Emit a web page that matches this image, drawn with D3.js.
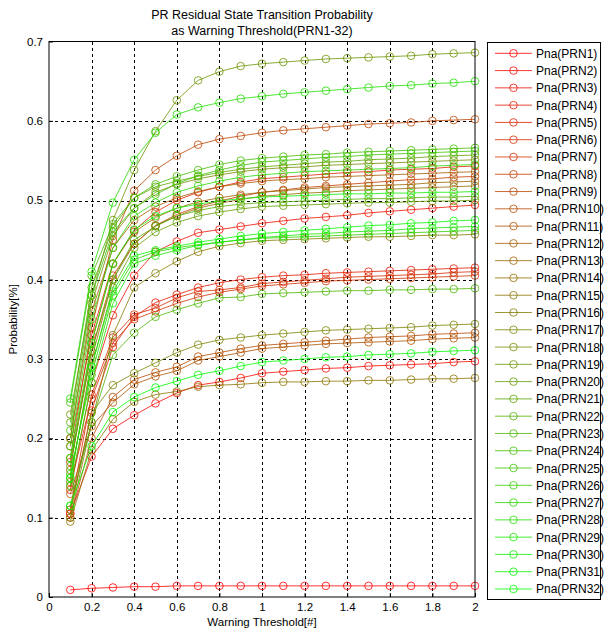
<!DOCTYPE html>
<html>
<head>
<meta charset="utf-8">
<script src="https://cdn.jsdelivr.net/npm/d3@7"></script>
<style>
  body { margin: 0; background: #fff; }
  text { font-family: "Liberation Sans", Arial, sans-serif; fill: #000; }
  .tick line { stroke: #000; }
  .grid line { stroke: #000; stroke-dasharray: 3,3; shape-rendering: crispEdges; }
</style>
</head>
<body>
<div id="chart"></div>
<script>
// x values (warning threshold)
var thresholds = [0.1,0.2,0.3,0.4,0.5,0.6,0.7,0.8,0.9,1.0,1.1,1.2,1.3,1.4,1.5,1.6,1.7,1.8,1.9,2.0];
var xTicks = [0,0.2,0.4,0.6,0.8,1,1.2,1.4,1.6,1.8,2];
var yTicks = [0,0.1,0.2,0.3,0.4,0.5,0.6,0.7];

// probability per PRN
var pnaPRN1  = [0.009,0.011,0.012,0.013,0.013,0.014,0.014,0.014,0.014,0.014,0.014,0.014,0.014,0.014,0.014,0.014,0.014,0.014,0.014,0.014];
var pnaPRN2  = [0.105,0.177,0.212,0.229,0.244,0.257,0.267,0.271,0.276,0.282,0.284,0.286,0.288,0.289,0.291,0.292,0.293,0.294,0.296,0.297];
var pnaPRN3  = [0.135,0.270,0.355,0.405,0.435,0.448,0.459,0.463,0.467,0.471,0.474,0.477,0.479,0.481,0.484,0.486,0.488,0.490,0.492,0.494];
var pnaPRN4  = [0.105,0.235,0.315,0.353,0.371,0.381,0.390,0.396,0.400,0.403,0.405,0.406,0.408,0.409,0.410,0.411,0.412,0.413,0.414,0.415];
var pnaPRN5  = [0.190,0.330,0.420,0.462,0.485,0.500,0.510,0.517,0.523,0.527,0.529,0.531,0.533,0.535,0.536,0.538,0.539,0.540,0.542,0.543];
var pnaPRN6  = [0.110,0.255,0.327,0.356,0.364,0.377,0.385,0.387,0.390,0.395,0.397,0.399,0.401,0.403,0.404,0.405,0.406,0.407,0.409,0.410];
var pnaPRN7  = [0.140,0.250,0.320,0.350,0.360,0.370,0.378,0.384,0.388,0.392,0.394,0.396,0.398,0.399,0.400,0.401,0.402,0.403,0.404,0.405];
var pnaPRN8  = [0.170,0.310,0.405,0.445,0.468,0.482,0.492,0.499,0.505,0.510,0.513,0.516,0.518,0.520,0.522,0.524,0.526,0.527,0.529,0.530];
var pnaPRN9  = [0.175,0.340,0.450,0.512,0.538,0.556,0.570,0.577,0.581,0.585,0.588,0.590,0.592,0.594,0.596,0.597,0.598,0.600,0.601,0.602];
var pnaPRN10 = [0.100,0.200,0.252,0.274,0.283,0.290,0.303,0.308,0.313,0.317,0.319,0.321,0.323,0.325,0.327,0.328,0.329,0.331,0.332,0.333];
var pnaPRN11 = [0.130,0.215,0.245,0.268,0.278,0.285,0.298,0.303,0.308,0.313,0.315,0.317,0.319,0.320,0.321,0.322,0.323,0.325,0.326,0.327];
var pnaPRN12 = [0.200,0.360,0.440,0.475,0.492,0.503,0.511,0.517,0.521,0.524,0.526,0.527,0.529,0.530,0.531,0.532,0.533,0.534,0.535,0.536];
var pnaPRN13 = [0.160,0.320,0.420,0.460,0.478,0.490,0.498,0.503,0.507,0.510,0.512,0.514,0.516,0.517,0.518,0.519,0.520,0.522,0.523,0.524];
var pnaPRN14 = [0.145,0.300,0.400,0.445,0.468,0.480,0.490,0.496,0.501,0.505,0.507,0.509,0.510,0.512,0.513,0.514,0.515,0.516,0.517,0.518];
var pnaPRN15 = [0.095,0.185,0.224,0.246,0.255,0.259,0.265,0.267,0.268,0.270,0.271,0.271,0.272,0.272,0.273,0.273,0.274,0.275,0.275,0.276];
var pnaPRN16 = [0.100,0.220,0.330,0.390,0.408,0.423,0.435,0.442,0.446,0.449,0.450,0.451,0.452,0.453,0.454,0.454,0.455,0.456,0.456,0.457];
var pnaPRN17 = [0.110,0.232,0.267,0.282,0.295,0.308,0.318,0.324,0.327,0.330,0.332,0.334,0.336,0.337,0.338,0.339,0.340,0.342,0.343,0.344];
var pnaPRN18 = [0.200,0.370,0.455,0.490,0.510,0.520,0.527,0.532,0.536,0.539,0.541,0.542,0.544,0.545,0.546,0.547,0.548,0.549,0.550,0.551];
var pnaPRN19 = [0.230,0.380,0.475,0.538,0.587,0.626,0.651,0.662,0.669,0.672,0.674,0.676,0.678,0.679,0.680,0.681,0.682,0.684,0.685,0.686];
var pnaPRN20 = [0.150,0.290,0.390,0.440,0.460,0.472,0.480,0.485,0.489,0.492,0.493,0.494,0.495,0.496,0.497,0.497,0.498,0.499,0.499,0.500];
var pnaPRN21 = [0.220,0.390,0.465,0.503,0.517,0.524,0.530,0.535,0.539,0.542,0.544,0.546,0.548,0.549,0.551,0.552,0.553,0.555,0.556,0.557];
var pnaPRN22 = [0.165,0.310,0.400,0.450,0.467,0.480,0.487,0.492,0.495,0.497,0.498,0.499,0.500,0.501,0.502,0.502,0.503,0.504,0.504,0.505];
var pnaPRN23 = [0.115,0.220,0.305,0.333,0.353,0.362,0.370,0.377,0.378,0.382,0.383,0.384,0.385,0.386,0.386,0.387,0.387,0.388,0.388,0.389];
var pnaPRN24 = [0.245,0.405,0.470,0.503,0.520,0.530,0.538,0.545,0.550,0.553,0.555,0.557,0.558,0.560,0.561,0.562,0.563,0.564,0.565,0.566];
var pnaPRN25 = [0.210,0.380,0.460,0.490,0.507,0.521,0.531,0.538,0.544,0.548,0.550,0.552,0.554,0.555,0.557,0.558,0.559,0.560,0.561,0.562];
var pnaPRN26 = [0.155,0.280,0.380,0.425,0.435,0.440,0.444,0.447,0.450,0.452,0.453,0.454,0.455,0.456,0.457,0.458,0.459,0.460,0.461,0.462];
var pnaPRN27 = [0.190,0.350,0.440,0.480,0.497,0.510,0.518,0.524,0.529,0.532,0.534,0.536,0.537,0.538,0.539,0.540,0.541,0.543,0.544,0.545];
var pnaPRN28 = [0.250,0.410,0.497,0.551,0.585,0.608,0.617,0.623,0.628,0.631,0.634,0.636,0.638,0.640,0.642,0.644,0.645,0.647,0.648,0.650];
var pnaPRN29 = [0.140,0.270,0.370,0.420,0.430,0.437,0.443,0.447,0.450,0.453,0.455,0.457,0.458,0.460,0.461,0.462,0.464,0.465,0.466,0.467];
var pnaPRN30 = [0.175,0.320,0.420,0.463,0.480,0.490,0.495,0.499,0.502,0.504,0.505,0.506,0.507,0.508,0.508,0.509,0.509,0.510,0.510,0.511];
var pnaPRN31 = [0.150,0.290,0.385,0.430,0.437,0.442,0.447,0.451,0.455,0.458,0.460,0.462,0.464,0.466,0.468,0.469,0.471,0.472,0.474,0.475];
var pnaPRN32 = [0.115,0.190,0.233,0.252,0.264,0.272,0.280,0.285,0.291,0.296,0.298,0.300,0.302,0.303,0.305,0.306,0.307,0.309,0.310,0.311];

var seriesValues = [pnaPRN1,pnaPRN2,pnaPRN3,pnaPRN4,pnaPRN5,pnaPRN6,pnaPRN7,pnaPRN8,
  pnaPRN9,pnaPRN10,pnaPRN11,pnaPRN12,pnaPRN13,pnaPRN14,pnaPRN15,pnaPRN16,
  pnaPRN17,pnaPRN18,pnaPRN19,pnaPRN20,pnaPRN21,pnaPRN22,pnaPRN23,pnaPRN24,
  pnaPRN25,pnaPRN26,pnaPRN27,pnaPRN28,pnaPRN29,pnaPRN30,pnaPRN31,pnaPRN32];
var seriesNames = seriesValues.map((d, i) => "Pna(PRN" + (i + 1) + ")");

var svgWidth = 606;
var svgHeight = 630;

// plot box
var margin = { top: 41.5, left: 49 };
var width = 426;
var height = 555.5;

var svg = d3.select("#chart")
  .append("svg")
  .attr("width", svgWidth)
  .attr("height", svgHeight);

var chartGroup = svg.append("g")
  .attr("transform", `translate(${margin.left}, ${margin.top})`);

var xScale = d3.scaleLinear().domain([0, 2]).range([0, width]);
var yScale = d3.scaleLinear().domain([0, 0.7]).range([height, 0]);

// red -> green, like the matlab colour ramp
var colorOf = i => d3.interpolateRgb("#ff0000", "#00ff00")(i / 31);

// dashed grid
chartGroup.append("g")
  .attr("class", "grid")
  .selectAll("line")
  .data(xTicks.filter(d => d > 0 && d < 2))
  .enter()
  .append("line")
  .attr("x1", d => Math.round(xScale(d)) + 0.5)
  .attr("x2", d => Math.round(xScale(d)) + 0.5)
  .attr("y1", 0)
  .attr("y2", height);

chartGroup.append("g")
  .attr("class", "grid")
  .selectAll("line")
  .data(yTicks.filter(d => d > 0 && d < 0.7))
  .enter()
  .append("line")
  .attr("x1", 0)
  .attr("x2", width)
  .attr("y1", d => Math.round(yScale(d)) + 0.5)
  .attr("y2", d => Math.round(yScale(d)) + 0.5);

// axes (ticks point inward)
var bottomAxis = d3.axisBottom(xScale).tickValues(xTicks).tickSize(-4).tickPadding(6)
  .tickFormat(d => d3.format("~g")(d));
var leftAxis = d3.axisLeft(yScale).tickValues(yTicks).tickSize(-4).tickPadding(6)
  .tickFormat(d => d3.format("~g")(d));

var xAxis = chartGroup.append("g")
  .attr("transform", `translate(0, ${height})`)
  .call(bottomAxis);
var yAxis = chartGroup.append("g")
  .call(leftAxis);
[xAxis, yAxis].forEach(function(ax) {
  ax.select(".domain").remove();
  ax.selectAll("text").style("font-size", "11.5px").style("font-family", "Liberation Sans, Arial, sans-serif");
});

// series
var line = d3.line()
  .x((d, i) => xScale(thresholds[i]))
  .y(d => yScale(d));

var seriesGroup = chartGroup.selectAll("g.series")
  .data(seriesValues)
  .enter()
  .append("g")
  .attr("class", "series");

seriesGroup.append("path")
  .attr("d", d => line(d))
  .attr("fill", "none")
  .attr("stroke", (d, i) => colorOf(i))
  .attr("stroke-width", 0.8);

seriesGroup.selectAll("circle")
  .data((d, i) => d.map(v => ({ v: v, c: colorOf(i) })))
  .enter()
  .append("circle")
  .attr("cx", (d, j) => xScale(thresholds[j]))
  .attr("cy", d => yScale(d.v))
  .attr("r", 3.8)
  .attr("fill", "none")
  .attr("stroke", d => d.c)
  .attr("stroke-width", 0.8);

// frame
chartGroup.append("rect")
  .attr("x", 0)
  .attr("y", 0)
  .attr("width", width)
  .attr("height", height)
  .attr("fill", "none")
  .attr("stroke", "#000")
  .attr("stroke-width", 1);

// titles
svg.append("text")
  .attr("x", margin.left + width / 2)
  .attr("y", 19)
  .attr("text-anchor", "middle")
  .style("font-size", "12.5px")
  .text("PR Residual State Transition Probability");
svg.append("text")
  .attr("x", margin.left + width / 2)
  .attr("y", 35)
  .attr("text-anchor", "middle")
  .style("font-size", "12.5px")
  .text("as Warning Threshold(PRN1-32)");

svg.append("text")
  .attr("x", margin.left + width / 2)
  .attr("y", 626)
  .attr("text-anchor", "middle")
  .style("font-size", "11.5px")
  .text("Warning Threshold[#]");

svg.append("text")
  .attr("transform", "rotate(-90)")
  .attr("x", -(margin.top + height / 2))
  .attr("y", 17)
  .attr("text-anchor", "middle")
  .style("font-size", "11.5px")
  .text("Probability[%]");

// legend
var legend = svg.append("g");
legend.append("rect")
  .attr("x", 487.5)
  .attr("y", 42.5)
  .attr("width", 113)
  .attr("height", 557)
  .attr("fill", "#fff")
  .attr("stroke", "#000");

var legendRows = legend.selectAll("g.row")
  .data(seriesNames)
  .enter()
  .append("g")
  .attr("class", "row")
  .attr("transform", (d, i) => `translate(0, ${53.3 + i * 17.28})`);

legendRows.append("line")
  .attr("x1", 495)
  .attr("x2", 532)
  .attr("y1", 0)
  .attr("y2", 0)
  .attr("stroke-width", 0.8)
  .attr("stroke", (d, i) => colorOf(i));
legendRows.append("circle")
  .attr("cx", 513.5)
  .attr("cy", 0)
  .attr("r", 3.8)
  .attr("fill", "none")
  .attr("stroke-width", 0.8)
  .attr("stroke", (d, i) => colorOf(i));
legendRows.append("text")
  .attr("x", 536)
  .attr("y", 4.5)
  .style("font-size", "12px")
  .text(d => d);
</script>
</body>
</html>
